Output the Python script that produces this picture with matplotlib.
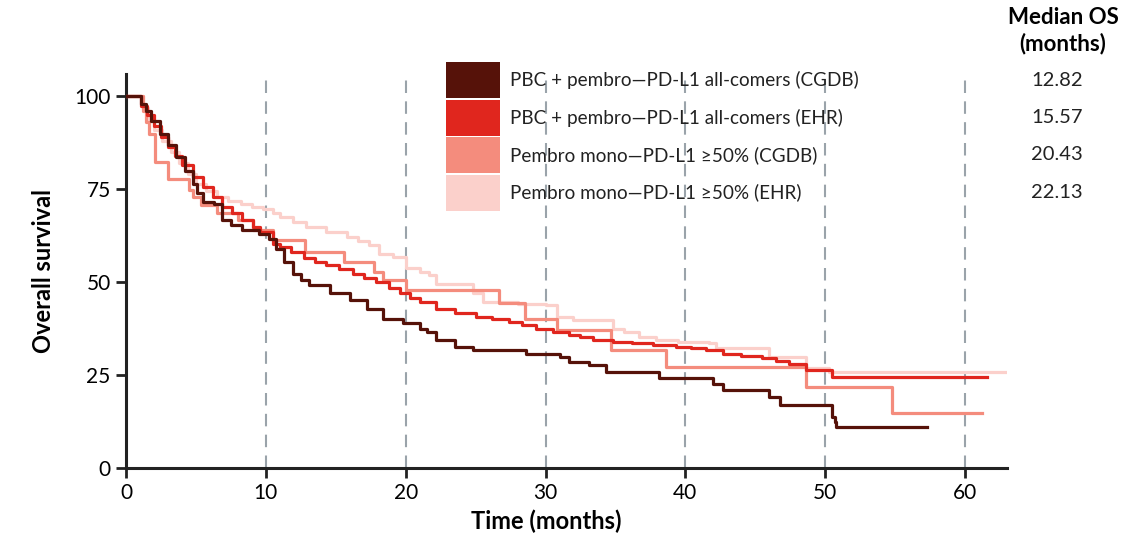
import numpy as np
import matplotlib
matplotlib.use('Agg')
import matplotlib.pyplot as plt
from matplotlib.patches import Rectangle

plt.rcParams['font.family'] = ['Lato', 'DejaVu Sans']

# Kaplan-Meier curves (months, % survival)
pbc_cgdb_t = [0, 1.07, 1.4, 1.8, 2.4, 3.0, 3.6, 4.2, 4.76, 5.1, 5.5, 6.3, 6.9, 7.5, 8.3, 9.5,
              10.2, 10.7, 11.3, 11.95, 12.5, 13.1, 14.6, 16.0, 17.2, 18.4, 19.8, 21.0, 21.5,
              22.2, 23.5, 24.8, 28.6, 31.0, 31.7, 33.1, 34.3, 38.1, 41.95, 42.7, 46.0, 46.8,
              50.5, 50.7, 50.8, 57.3]
pbc_cgdb_s = [100, 98, 96.2, 93.5, 90, 87, 83.7, 80, 76.5, 74, 71.6, 71.1, 66.7, 65.5, 64, 63.1,
              61.5, 59, 55.5, 52.3, 50.5, 49.2, 47, 45.2, 42.9, 40.2, 38.9, 37.5, 36.5,
              34.4, 32.5, 31.7, 30.8, 29.9, 28.6, 27.7, 25.9, 24.1, 22.7, 21, 19.2, 16.9,
              13.8, 12.5, 11.1, 11.1]

pbc_ehr_t = [0, 1.1, 1.5, 2.0, 2.5, 3.0, 3.5, 4.0, 4.76, 5.5, 6.2, 6.9, 7.6, 8.3, 9.05, 9.6,
             10.5, 11.0, 11.8, 12.7, 13.5, 14.3, 15.2, 16.2, 17.0, 17.9, 18.8, 19.6, 20.3, 21.0,
             22.2, 23.5, 25.0, 26.2, 27.4, 28.3, 29.3, 30.5, 31.7, 32.5, 33.4, 34.8, 36.2, 37.7,
             39.3, 40.4, 41.5, 42.7, 44.0, 45.5, 46.5, 47.4, 48.6, 50.0, 50.5, 61.6]
pbc_ehr_s = [100, 97.5, 95, 92, 89, 86.5, 84, 81.5, 78.3, 75.5, 73, 70.2, 68.5, 66.8, 64.9, 63.5,
             60.4, 59.5, 58, 56.4, 55.5, 54.6, 53.5, 52.3, 51.2, 50.1, 48.5, 47, 45.7, 44.7,
             42.9, 41.8, 40.7, 40, 39.3, 38.4, 37.5, 36.7, 35.8, 35.2, 34.4, 33.9, 33.5, 33,
             32.6, 32.2, 31.7, 30.8, 30.2, 29.5, 28.8, 28.1, 26.3, 26.3, 24.5, 24.5]

mono_cgdb_t = [0, 1.2, 1.4, 1.66, 2.1, 2.98, 4.5, 4.76, 5.36, 6.5, 8.0, 9.1, 10.5, 12.8, 15.6,
               17.7, 18.4, 20.05, 26.7, 28.5, 30.8, 34.7, 38.6, 48.6, 54.8, 61.2]
mono_cgdb_s = [100, 96, 93, 90, 82.3, 77.9, 74.7, 73, 70.7, 68.5, 66.7, 64, 61.3, 58.2, 55.5,
               52.8, 50.5, 47.8, 44.3, 40.2, 37.1, 31.7, 27.2, 21.9, 14.7, 14.7]

mono_ehr_t = [0, 1.2, 1.6, 2.0, 2.6, 3.2, 3.8, 4.4, 5.0, 5.7, 6.5, 7.3, 8.2, 9.0, 9.8, 10.5,
              11.0, 11.95, 12.9, 14.3, 15.8, 16.6, 17.4, 18.1, 19.1, 20.05, 21.0, 21.7, 22.2,
              24.8, 25.5, 28.0, 30.0, 30.8, 31.95, 34.8, 35.6, 36.7, 37.9, 39.5, 41.7, 42.2,
              46.0, 48.6, 50.3, 63.1]
mono_ehr_s = [100, 97, 94, 91, 88, 85, 82, 79, 76.5, 74.5, 72.9, 71.8, 71, 70.3, 69.8, 68.5,
              67.6, 66.2, 64.9, 63.5, 62.2, 61, 59.9, 57.7, 56.8, 53.7, 52.8, 51.9, 49.6,
              47, 44.7, 44.2, 43.8, 40.7, 39.8, 37.5, 36.6, 35.3, 34.5, 34, 33.5, 32.2,
              29.9, 26.8, 25.9, 25.9]

labels = ['PBC + pembro\u2014PD-L1 all-comers (CGDB)',
          'PBC + pembro\u2014PD-L1 all-comers (EHR)',
          'Pembro mono\u2014PD-L1 \u226550% (CGDB)',
          'Pembro mono\u2014PD-L1 \u226550% (EHR)']
median_os = ['12.82', '15.57', '20.43', '22.13']
colors = ['#561209', '#e0261e', '#f48c7d', '#fbd0cb']

curves = [(pbc_cgdb_t, pbc_cgdb_s), (pbc_ehr_t, pbc_ehr_s),
          (mono_cgdb_t, mono_cgdb_s), (mono_ehr_t, mono_ehr_s)]

fig = plt.figure(figsize=(11.33, 5.41), dpi=100)
ax = fig.add_axes([0.1112, 0.135, 0.7776, 0.728])

for x in range(10, 61, 10):
    ax.axvline(x, color='#9aa3aa', lw=1.5, ls=(0, (6, 4)), zorder=1)

# draw lightest first so the dark curve sits on top
for i in [3, 2, 1, 0]:
    t, s = curves[i]
    ax.plot(t, s, drawstyle='steps-post', color=colors[i], lw=2.3, zorder=2 + (3 - i))

ax.set_xlim(0, 63)
ax.set_ylim(0, 106)
ax.set_xticks([0, 10, 20, 30, 40, 50, 60])
ax.set_yticks([0, 25, 50, 75, 100])
for side in ['top', 'right']:
    ax.spines[side].set_visible(False)
for side in ['left', 'bottom']:
    ax.spines[side].set_linewidth(2.2)
    ax.spines[side].set_color('#222222')
ax.tick_params(axis='both', direction='out', length=7, width=2, color='#222222',
               labelsize=15, pad=4)
ax.set_xlabel('Time (months)', fontsize=17, fontweight='bold')
ax.xaxis.set_label_coords(0.477, -0.105)
ax.set_ylabel('Overall survival', fontsize=17, fontweight='bold', labelpad=14)

# legend block with colour swatches and median OS column
top = 1 - 62 / 541
row_h = 37.5 / 541
sw_h = 36 / 541
for i, (lab, med) in enumerate(zip(labels, median_os)):
    y0 = top - (i + 1) * row_h
    fig.add_artist(Rectangle((446 / 1133, y0 + (row_h - sw_h)), 54 / 1133, sw_h,
                             transform=fig.transFigure, color=colors[i], lw=0))
    yc = y0 + (row_h - sw_h) + sw_h / 2
    fig.text(510 / 1133, yc, lab, fontsize=13.6, va='center', ha='left', color='#222222')
    fig.text(1083 / 1133, yc, med, fontsize=14.5, va='center', ha='right', color='#222222')

fig.text(1063 / 1133, 1 - 31 / 541, 'Median OS\n(months)', fontsize=16, fontweight='bold',
         ha='center', va='center', linespacing=1.25)

fig.savefig('out.png', dpi=100)
